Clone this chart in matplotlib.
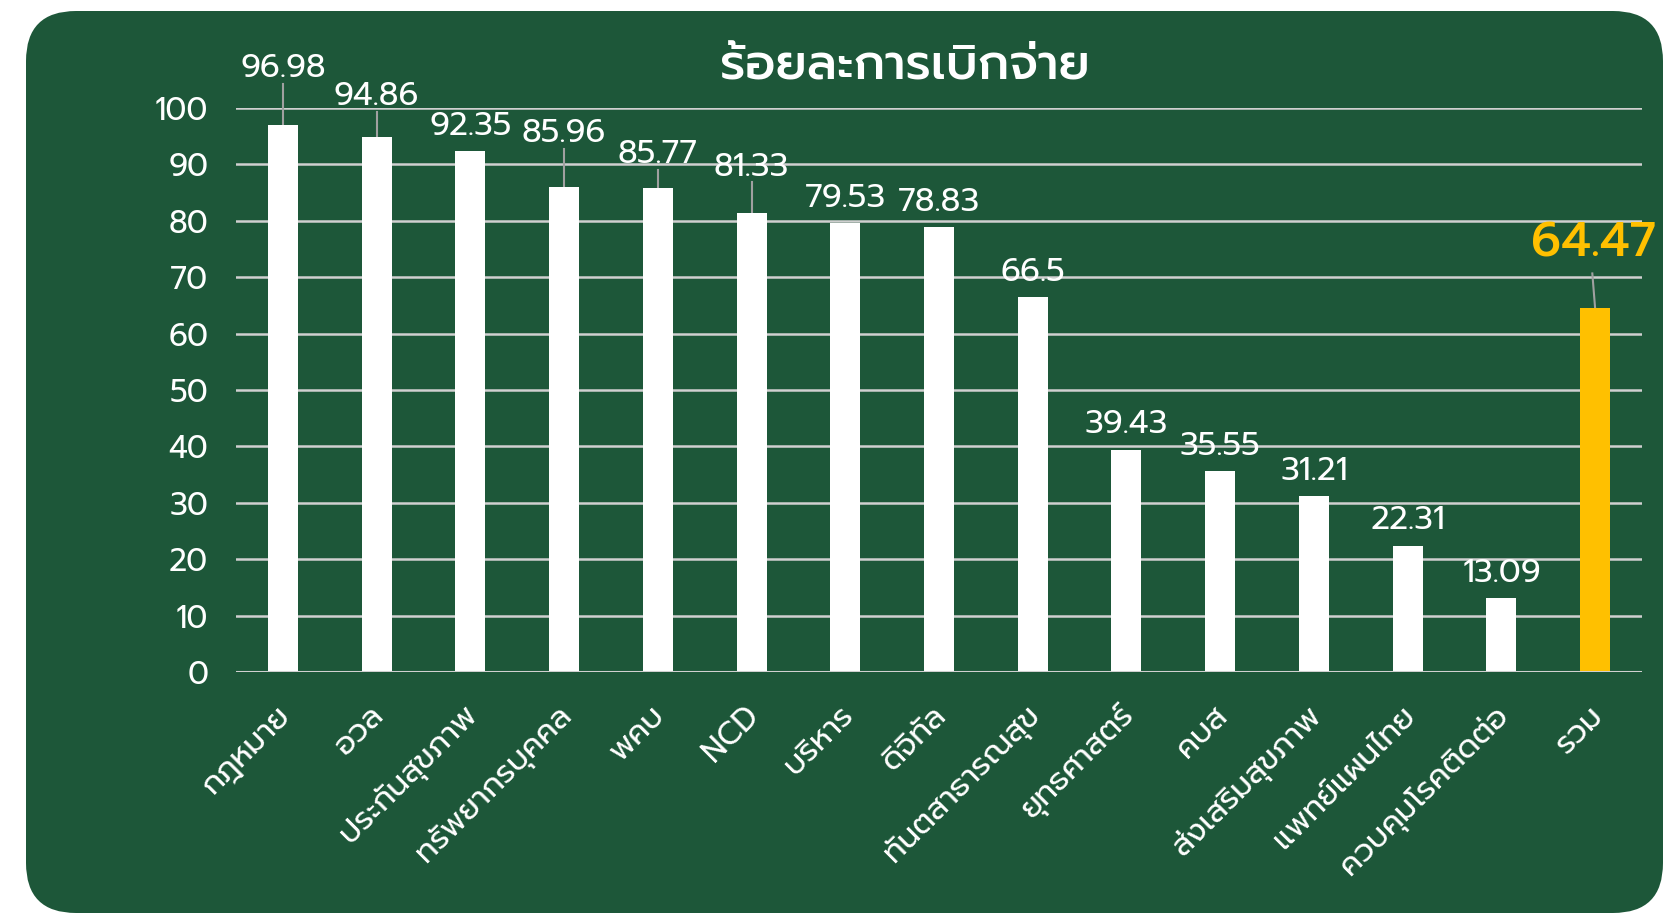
import matplotlib
matplotlib.use('Agg')
import matplotlib.pyplot as plt
import matplotlib.transforms as mtransforms
from matplotlib.patches import FancyBboxPatch
import numpy as np

# data
categories = ['กฎหมาย', 'อวล', 'ประกันสุขภาพ', 'ทรัพยากรบุคคล', 'พคบ', 'NCD',
              'บริหาร', 'ดิจิทัล', 'ทันตสาธารณสุข', 'ยุทธศาสตร์', 'คบส',
              'ส่งเสริมสุขภาพ', 'แพทย์แผนไทย', 'ควบคุมโรคติดต่อ', 'รวม']
values = [96.98, 94.86, 92.35, 85.96, 85.77, 81.33, 79.53, 78.83, 66.5,
          39.43, 35.55, 31.21, 22.31, 13.09, 64.47]
y_ticks = [0, 10, 20, 30, 40, 50, 60, 70, 80, 90, 100]
title = 'ร้อยละการเบิกจ่าย'

# label placement (how far above the bar the label sits, and whether it has a leader line)
label_offsets = [10.0, 7.1, 4.4, 9.5, 5.9, 8.2, 4.5, 4.4, 4.4,
                 4.5, 4.5, 4.4, 4.5, 4.4, 11.4]
has_leader = [True, True, False, True, True, True, False, False, False,
              False, False, False, False, False, True]

GREEN = '#1d5739'
YELLOW = '#ffc000'
GRID = '#d0d0d0'

plt.rcParams['font.family'] = ['Prompt', 'Kanit', 'Noto Sans Thai', 'DejaVu Sans']

fig = plt.figure(figsize=(16.8, 9.14), dpi=100, facecolor='white')

# rounded green panel behind everything (inches)
panel = FancyBboxPatch((0.26, 0.01), 16.37, 9.02,
                       boxstyle='round,pad=0,rounding_size=0.5',
                       transform=fig.dpi_scale_trans,
                       facecolor=GREEN, edgecolor='none', zorder=0)
fig.add_artist(panel)

ax = fig.add_axes([236 / 1680, 1 - 672 / 914, (1642 - 236) / 1680, (672 - 108) / 914])
ax.set_facecolor('none')

x = np.arange(len(categories))
colors = ['white'] * (len(values) - 1) + [YELLOW]
ax.bar(x, values, width=0.32, color=colors, zorder=3)

ax.set_xlim(-0.5, len(categories) - 0.5)
ax.set_ylim(0, 100)
ax.set_yticks(y_ticks)
ax.set_yticklabels([str(t) for t in y_ticks], fontsize=22.5, color='white')
ax.grid(axis='y', color=GRID, linewidth=1.8, zorder=1)
ax.axhline(0, color=GRID, linewidth=2.2, zorder=4)
for s in ax.spines.values():
    s.set_visible(False)
ax.tick_params(axis='y', length=0, pad=20)
ax.tick_params(axis='x', length=0, pad=20)
ax.set_xticks(x)
ax.set_xticklabels(categories, rotation=45, ha='right', va='top',
                   rotation_mode='anchor', fontsize=22.5, color='white')
shift = mtransforms.ScaledTranslation(-8 / 100, 0, fig.dpi_scale_trans)
for lab in ax.get_xticklabels():
    lab.set_transform(lab.get_transform() + shift)

# data labels
for i, v in enumerate(values):
    ly = v + label_offsets[i]
    last = i == len(values) - 1
    if has_leader[i]:
        top = ly - (5.2 if last else 2.7)
        lx = i - 0.03 if last else i
        ax.plot([lx, i], [top, v], color='#a0a0a0', linewidth=1.5,
                zorder=2, clip_on=False)
    if last:
        ax.text(i - 0.02, ly, f'{v:g}', ha='center', va='center', fontsize=35,
                fontweight='medium', color=YELLOW, clip_on=False)
    else:
        ax.text(i, ly, f'{v:g}', ha='center', va='center', fontsize=23.5,
                color='white', clip_on=False)

fig.text(905 / 1680, 1 - 67 / 914, title, ha='center', va='center',
         fontsize=35, fontweight='medium', color='white')

fig.savefig('out.png', dpi=100, facecolor=fig.get_facecolor())
